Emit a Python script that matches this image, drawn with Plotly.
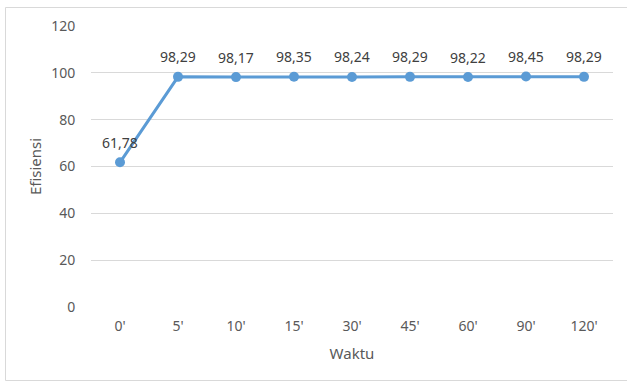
import plotly.graph_objects as go

categories = ["0'", "5'", "10'", "15'", "30'", "45'", "60'", "90'", "120'"]
efisiensi = [61.78, 98.29, 98.17, 98.35, 98.24, 98.29, 98.22, 98.45, 98.29]
labels = [f"{v:.2f}".replace(".", ",") for v in efisiensi]
y_ticks = [0, 20, 40, 60, 80, 100, 120]

FONT = "Noto Sans"
W, H = 627, 381
ML, MR, MT, MB = 91, 14, 26, 74
pw = W - ML - MR
ph = H - MT - MB

fig = go.Figure()
fig.add_trace(go.Scatter(
    x=categories, y=efisiensi, mode="lines+markers",
    line=dict(color="#5B9BD5", width=3),
    marker=dict(color="#5B9BD5", size=10),
    hoverinfo="skip", showlegend=False,
))

annotations = [
    dict(x=c, y=v, text=t, showarrow=False, yshift=20, xref="x", yref="y",
         font=dict(family=FONT, size=14, color="#404040"))
    for c, v, t in zip(categories, efisiensi, labels)
]

def px_x(p):
    return (p - ML) / pw

def px_y(p):
    return (MT + ph - p) / ph

fig.update_layout(
    width=W, height=H,
    margin=dict(l=ML, r=MR, t=MT, b=MB),
    paper_bgcolor="white", plot_bgcolor="white",
    font=dict(family=FONT, size=14, color="#595959"),
    annotations=annotations,
    shapes=[dict(type="rect", xref="paper", yref="paper",
                 x0=px_x(5.5), x1=px_x(760), y0=px_y(380.5), y1=px_y(7.5),
                 line=dict(color="#D9D9D9", width=1), layer="below")],
    xaxis=dict(
        type="category", range=[-0.5, len(categories) - 0.5],
        showgrid=False, showline=False, zeroline=False,
        ticks="outside", ticklen=6, tickcolor="rgba(0,0,0,0)",
        tickfont=dict(family=FONT, size=14, color="#595959"),
        title=dict(text="Waktu", font=dict(family=FONT, size=15, color="#595959"), standoff=14),
    ),
    yaxis=dict(
        range=[0, 120], tickvals=y_ticks,
        showgrid=True, gridcolor="#D9D9D9", gridwidth=1,
        showline=False, zeroline=False,
        ticks="outside", ticklen=12, tickcolor="rgba(0,0,0,0)",
        tickfont=dict(family=FONT, size=14, color="#595959"),
        title=dict(text="Efisiensi", font=dict(family=FONT, size=15, color="#595959"), standoff=5),
    ),
)

fig.write_html("out.html")
